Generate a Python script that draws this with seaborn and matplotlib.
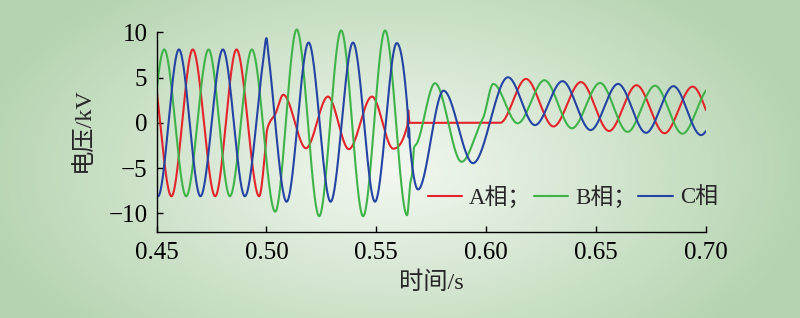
import numpy as np
import pandas as pd
import matplotlib
matplotlib.use("Agg")
import matplotlib.pyplot as plt
import seaborn as sns

# ---------------- data (extrema / key points) ----------------
a_t = [0.4465, 0.4568, 0.4665, 0.4767, 0.4864, 0.4967, 0.4996, 0.5002, 0.5016, 0.5039,
       0.5077, 0.5180, 0.5280, 0.5375, 0.5480, 0.5577, 0.5641, 0.5645, 0.5651, 0.6063,
       0.6181, 0.6306, 0.6431, 0.6559, 0.6684, 0.6811, 0.6939, 0.7064]
a_v = [8.1, -8.1, 8.1, -8.1, 8.1, -8.1, -2.7, -0.9, 0.1, 0.9,
       3.1, -2.8, 2.9, -2.9, 2.9, -2.85, -0.3, 1.4, 0.0, 0.0,
       4.85, -0.4, 4.5, -0.9, 4.15, -1.15, 4.0, -1.4]

b_t = [0.4435, 0.4535, 0.4635, 0.4737, 0.4834, 0.4934, 0.5040, 0.5138, 0.5240, 0.5340,
       0.5440, 0.5540, 0.5640, 0.5655, 0.5662, 0.5672, 0.5684, 0.5767, 0.5888, 0.5977,
       0.5987, 0.6032, 0.6143, 0.6265, 0.6390, 0.6518, 0.6643, 0.6768, 0.6893, 0.7021]
b_v = [-8.1, 8.1, -8.1, 8.1, -8.1, 8.1, -9.8, 10.3, -10.3, 10.2,
       -10.3, 10.2, -10.2, -6.6, -5.8, -2.7, -2.3, 4.37, -4.3, 0.1,
       0.6, 4.3, -0.05, 4.7, -0.6, 4.4, -1.0, 4.1, -1.2, 3.95]

c_t = [0.4402, 0.4507, 0.4602, 0.4700, 0.4802, 0.4902, 0.4986, 0.5000, 0.5009, 0.5092,
       0.5192, 0.5292, 0.5394, 0.5494, 0.5593, 0.5644, 0.5647, 0.5649, 0.5652, 0.5690,
       0.5806, 0.5940, 0.6099, 0.6222, 0.6347, 0.6475, 0.6600, 0.6727, 0.6852, 0.6977,
       0.7105]
c_v = [8.1, -8.1, 8.1, -8.1, 8.1, -8.1, 7.0, 9.35, 7.6, -8.7,
       8.86, -8.7, 8.86, -8.7, 8.8, 0.8, -1.6, -0.6, -2.2, -7.35,
       3.55, -4.45, 5.03, -0.25, 4.6, -0.8, 4.3, -1.1, 4.05, -1.35,
       3.9]

phase_names = ["A相；", "B相；", "C相"]
phase_colors = ["#e3242b", "#3fb34a", "#2443a3"]
x_ticks = [0.45, 0.50, 0.55, 0.60, 0.65, 0.70]
x_tick_labels = ["0.45", "0.50", "0.55", "0.60", "0.65", "0.70"]
y_ticks = [-10, -5, 0, 5, 10]
y_tick_labels = ["\u221210", "\u22125", "0", "5", "10"]
x_label = "时间/s"
y_label = "电压/kV"


def pchip(xk, yk, xq):
    xk = np.asarray(xk, float)
    yk = np.asarray(yk, float)
    h = np.diff(xk)
    delta = np.diff(yk) / h
    n = len(xk)
    d = np.zeros(n)
    for k in range(1, n - 1):
        if delta[k - 1] * delta[k] > 0:
            w1 = 2 * h[k] + h[k - 1]
            w2 = h[k] + 2 * h[k - 1]
            d[k] = (w1 + w2) / (w1 / delta[k - 1] + w2 / delta[k])
    idx = np.clip(np.searchsorted(xk, xq) - 1, 0, n - 2)
    s = (xq - xk[idx]) / h[idx]
    h00 = 2 * s**3 - 3 * s**2 + 1
    h10 = s**3 - 2 * s**2 + s
    h01 = -2 * s**3 + 3 * s**2
    h11 = s**3 - s**2
    return (h00 * yk[idx] + h10 * h[idx] * d[idx]
            + h01 * yk[idx + 1] + h11 * h[idx] * d[idx + 1])


frames = []
for name, tk, vk in zip(phase_names, [a_t, b_t, c_t], [a_v, b_v, c_v]):
    tq = np.linspace(0.45, 0.70, 8000)
    tk_in = [t for t in tk if 0.45 <= t <= 0.70]
    tq = np.union1d(tq, tk_in)
    frames.append(pd.DataFrame({"t": tq, "v": pchip(tk, vk, tq), "phase": name}))
df = pd.concat(frames, ignore_index=True)

# ---------------- figure ----------------
sns.set_style("ticks")
plt.rcParams["font.family"] = ["Liberation Serif", "Noto Sans CJK SC"]
plt.rcParams["axes.unicode_minus"] = True

fig = plt.figure(figsize=(8.0, 3.18), dpi=100)

# background radial gradient
bg = fig.add_axes([0, 0, 1, 1], zorder=0)
H, W = 318, 800
yy, xx = np.mgrid[0:H, 0:W]
r = np.sqrt(((xx - 390) / 430.0) ** 2 + ((yy - 170) / 240.0) ** 2)
r = np.clip(r, 0, 1)
c0 = np.array([243, 248, 241]) / 255.0
c1 = np.array([180, 211, 175]) / 255.0
img = c0 + (c1 - c0) * (r[..., None] ** 1.0)
bg.imshow(img, aspect="auto", extent=[0, 1, 0, 1], interpolation="bilinear")
bg.set_axis_off()

ax = fig.add_axes([0.19563, 0.26887, 0.68688, 0.64686], zorder=1)
ax.patch.set_alpha(0)

sns.lineplot(data=df, x="t", y="v", hue="phase", hue_order=phase_names,
             palette=phase_colors, estimator=None, sort=False, linewidth=1.5, ax=ax)

ax.set_xlim(0.45, 0.70)
ax.set_ylim(-12.1, 10.6)
ax.set_xticks(x_ticks)
ax.set_xticklabels(x_tick_labels)
ax.set_yticks(y_ticks)
ax.set_yticklabels(y_tick_labels)
ax.tick_params(axis="both", direction="in", length=4.5, width=1.0, labelsize=18,
               colors="black")
ax.tick_params(axis="y", pad=6.5)
ax.tick_params(axis="x", pad=6.5)
for side in ["top", "right"]:
    ax.spines[side].set_visible(False)
for side in ["left", "bottom"]:
    ax.spines[side].set_linewidth(1.0)
    ax.spines[side].set_color("black")
ax.spines["left"].set_bounds(-12.1, 10)

ax.set_xlabel(x_label, fontsize=17.5)
ax.set_ylabel(y_label, fontsize=17.5)
ax.xaxis.set_label_coords(0.5, -0.2455)
ax.xaxis.label.set_va("center")
ax.yaxis.set_label_coords(-0.1338, 0.5)
ax.yaxis.label.set_va("center")

sns.move_legend(ax, "center left", bbox_to_anchor=(0.494, 0.171), ncol=3,
                frameon=False, title=None, borderpad=0, borderaxespad=0,
                handlelength=1.5, handletextpad=0.3, columnspacing=0.1,
                fontsize=16.5)

fig.savefig("out.png", dpi=100)
